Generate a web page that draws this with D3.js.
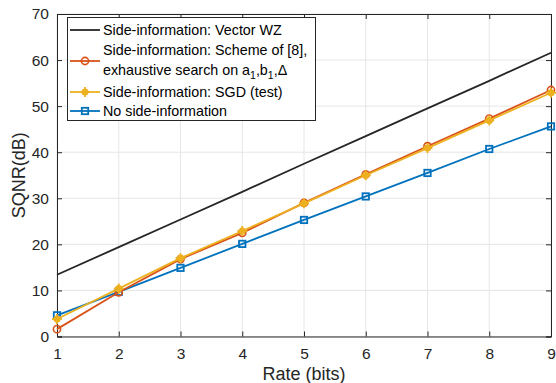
<!DOCTYPE html>
<html><head><meta charset="utf-8">
<script src="https://cdn.jsdelivr.net/npm/d3@7"></script>
<style>
body{margin:0;background:#fff;}
svg{display:block;font-family:"Liberation Sans",Arial,sans-serif;}
</style></head>
<body>
<svg id="chart" width="556" height="383"></svg>
<script>
const rates = [1,2,3,4,5,6,7,8,9];
const vectorWZ = [13.4,19.4,25.4,31.4,37.5,43.5,49.5,55.5,61.6];
const scheme8 = [1.6,9.6,16.8,22.5,29.0,35.2,41.3,47.3,53.5];
const sgd = [3.8,10.4,17.0,22.9,28.9,35.0,40.9,46.9,52.9];
const noSI = [4.6,9.7,14.9,20.1,25.3,30.4,35.5,40.7,45.6];
const xTicks = [1,2,3,4,5,6,7,8,9];
const yTicks = [0,10,20,30,40,50,60,70];
const seriesNames = ["Side-information: Vector WZ","Side-information: Scheme of [8],","Side-information: SGD (test)","No side-information"];

const svg = d3.select("#chart");
const L=57, R=551, T=14, B=336.5;
const x = d3.scaleLinear().domain([1,9]).range([L,R]);
const y = d3.scaleLinear().domain([0,70]).range([B,T]);
const textCol="#262626";

// grid
const g = svg.append("g");
g.selectAll(".gx").data(xTicks).join("line")
 .attr("x1",d=>x(d)).attr("x2",d=>x(d)).attr("y1",T).attr("y2",B)
 .attr("stroke","#e6e6e6").attr("stroke-width",1);
g.selectAll(".gy").data(yTicks).join("line")
 .attr("y1",d=>y(d)).attr("y2",d=>y(d)).attr("x1",L).attr("x2",R)
 .attr("stroke","#e6e6e6").attr("stroke-width",1);

// axes
const xAxis = svg.append("g").attr("transform",`translate(0,${B})`)
 .call(d3.axisBottom(x).tickValues(xTicks).tickSize(-5).tickPadding(11).tickFormat(d3.format("d")));
const xAxisTop = svg.append("g").attr("transform",`translate(0,${T})`)
 .call(d3.axisTop(x).tickValues(xTicks).tickSize(-5).tickFormat(""));
const yAxis = svg.append("g").attr("transform",`translate(${L},0)`)
 .call(d3.axisLeft(y).tickValues(yTicks).tickSize(-5).tickPadding(8).tickFormat(d3.format("d")));
const yAxisR = svg.append("g").attr("transform",`translate(${R},0)`)
 .call(d3.axisRight(y).tickValues(yTicks).tickSize(-5).tickFormat(""));
[xAxis,xAxisTop,yAxis,yAxisR].forEach(a=>{
  a.select(".domain").attr("stroke",textCol).attr("stroke-width",1);
  a.selectAll(".tick line").attr("stroke",textCol);
  a.selectAll(".tick text").attr("fill",textCol).style("font-size","15.5px").style("font-family","'Liberation Sans',Arial,sans-serif");
});

svg.append("text").attr("x",(L+R)/2 + 0).attr("y",380).attr("text-anchor","middle")
 .attr("fill",textCol).style("font-size","18px").text("Rate (bits)");
svg.append("text").attr("transform",`translate(25,${(T+B)/2}) rotate(-90)`).attr("text-anchor","middle")
 .attr("fill",textCol).style("font-size","18px").text("SQNR(dB)");

const line = d3.line().x((d,i)=>x(rates[i])).y(d=>y(d));
const cols = {wz:"#262626",s8:"#D95319",sgd:"#EDB120",no:"#0072BD"};

function starMarker(sel,cx,cy,col){
  sel.append("circle").attr("cx",cx).attr("cy",cy).attr("r",3.6).attr("fill",col);
  const s=5;
  const gg=sel.append("g").attr("stroke",col).attr("stroke-width",1.8);
  gg.append("line").attr("x1",cx-s).attr("x2",cx+s).attr("y1",cy).attr("y2",cy);
  gg.append("line").attr("x1",cx).attr("x2",cx).attr("y1",cy-s).attr("y2",cy+s);
}
function circMarker(sel,cx,cy,col){
  sel.append("circle").attr("cx",cx).attr("cy",cy).attr("r",3.6).attr("fill","none").attr("stroke",col).attr("stroke-width",1.6);
}
function sqMarker(sel,cx,cy,col){
  sel.append("rect").attr("x",cx-3.2).attr("y",cy-3.2).attr("width",6.4).attr("height",6.4).attr("fill","none").attr("stroke",col).attr("stroke-width",1.8);
}

const plot = svg.append("g");
plot.append("path").datum(vectorWZ).attr("d",line).attr("fill","none").attr("stroke",cols.wz).attr("stroke-width",1.8);
plot.append("path").datum(noSI).attr("d",line).attr("fill","none").attr("stroke",cols.no).attr("stroke-width",1.8);
noSI.forEach((v,i)=>sqMarker(plot,x(rates[i]),y(v),cols.no));
plot.append("path").datum(scheme8).attr("d",line).attr("fill","none").attr("stroke",cols.s8).attr("stroke-width",1.8);
scheme8.forEach((v,i)=>circMarker(plot,x(rates[i]),y(v),cols.s8));
plot.append("path").datum(sgd).attr("d",line).attr("fill","none").attr("stroke",cols.sgd).attr("stroke-width",1.8);
sgd.forEach((v,i)=>starMarker(plot,x(rates[i]),y(v),cols.sgd));

// legend
const lg = svg.append("g");
lg.append("rect").attr("x",67.5).attr("y",17.5).attr("width",248).attr("height",103)
 .attr("fill","#fff").attr("stroke",textCol).attr("stroke-width",1);
const lx1=70, lx2=100, tx=103;
const fs="14.3px";
function ltext(yy,t){ return lg.append("text").attr("x",tx).attr("y",yy).attr("fill","#000").style("font-size",fs).text(t); }
lg.append("line").attr("x1",lx1).attr("x2",lx2).attr("y1",30).attr("y2",30).attr("stroke",cols.wz).attr("stroke-width",1.8);
ltext(35,seriesNames[0]);
lg.append("line").attr("x1",lx1).attr("x2",lx2).attr("y1",61).attr("y2",61).attr("stroke",cols.s8).attr("stroke-width",1.8);
circMarker(lg,85,61,cols.s8);
ltext(55,seriesNames[1]);
const t2 = ltext(75,"exhaustive search on a");
t2.append("tspan").attr("dy",4).style("font-size","10.5px").text("1");
t2.append("tspan").attr("dy",-4).text(",b");
t2.append("tspan").attr("dy",4).style("font-size","10.5px").text("1");
t2.append("tspan").attr("dy",-4).text(",\u0394");
lg.append("line").attr("x1",lx1).attr("x2",lx2).attr("y1",92).attr("y2",92).attr("stroke",cols.sgd).attr("stroke-width",1.8);
starMarker(lg,85,92,cols.sgd);
ltext(97,seriesNames[2]);
lg.append("line").attr("x1",lx1).attr("x2",lx2).attr("y1",111).attr("y2",111).attr("stroke",cols.no).attr("stroke-width",1.8);
sqMarker(lg,85,111,cols.no);
ltext(116,seriesNames[3]);
</script>
</body></html>
